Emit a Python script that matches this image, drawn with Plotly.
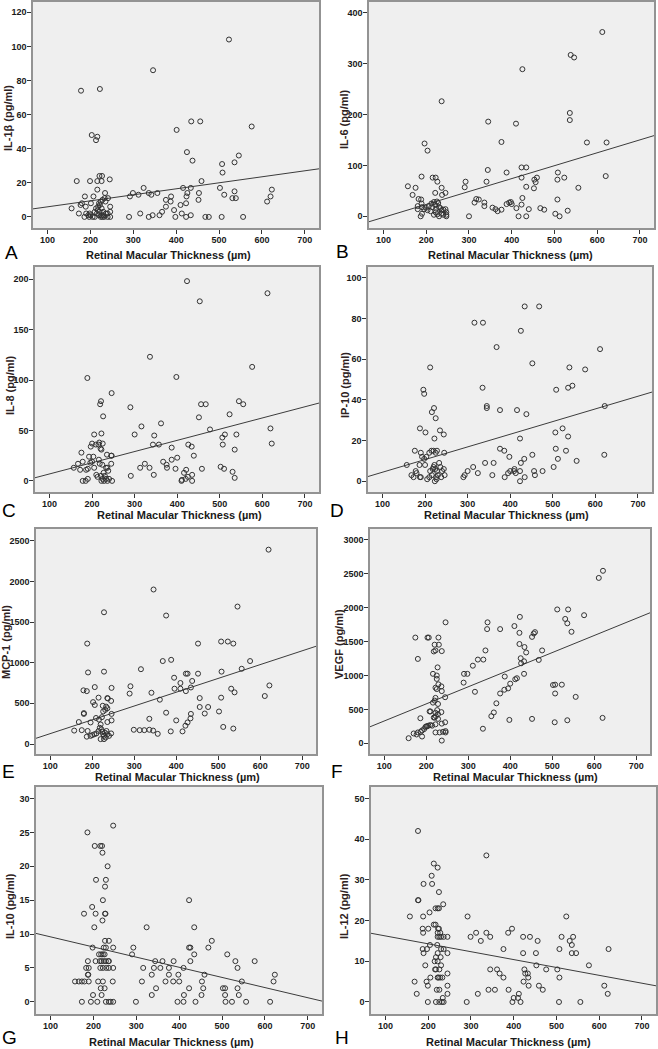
import plotly.graph_objects as go

# ---------------- data ----------------
x_tick_vals = [100, 200, 300, 400, 500, 600, 700]
x_title = "Retinal Macular Thickness (µm)"

il1b_pts = [(523,104),(346,86),(178,74),(222,75),(435,56),(456,56),(576,53),(401,51),(203,48),(216,47),(213,45),
    (425,38),(546,36),(438,33),(536,32),(507,31),(508,26),(168,21),(199,21),(216,21),(226,21),(221,24),(227,24),
    (245,22),(216,16),(324,17),(416,17),(434,17),(459,21),(502,17),(623,16),(536,15),(512,13),(620,12),(612,9),
    (531,11),(539,11),(299,14),(312,13),(336,14),(342,13),(356,14),(292,12),(388,12),(426,14),(453,14),(424,12),
    (234,14),(187,12),(207,12),(233,11),(241,11),(376,10),(387,9),(452,10),(423,8),(410,7),(156,5),(173,2),(177,7),
    (180,8),(189,6),(201,8),(213,5),(218,6),(220,8),(222,7),(224,9),(228,10),(230,3),(235,9),(240,2),(246,6),(246,3),
    (186,0),(190,2),(195,1),(197,0),(200,1),(205,0),(210,0),(215,2),(220,1),(224,0),(226,1),(228,0),(232,0),(236,2),
    (240,0),(246,0),(198,2),(210,3),(217,4),(221,3),(226,5),(231,1),(290,0),(316,2),(336,0),(345,1),(361,1),(367,3),
    (376,6),(395,4),(398,0),(413,2),(423,0),(434,1),(468,0),(476,0),(506,0),(556,0)]
il6_pts = [(612,362),(538,317),(546,312),(425,289),(536,203),(536,189),(236,226),(345,186),(410,182),(376,146),
    (576,145),(622,145),(196,143),(203,129),(620,79),(423,96),(434,96),(344,91),(388,86),(508,86),(189,78),(215,76),
    (222,76),(423,76),(459,76),(523,76),(226,68),(292,68),(341,68),(507,72),(453,72),(456,67),(157,59),(175,56),
    (236,56),(290,57),(434,58),(452,55),(556,56),(221,46),(245,46),(237,42),(168,42),(182,34),(188,33),(425,36),
    (317,34),(323,33),(507,33),(180,20),(189,25),(190,18),(195,14),(199,17),(203,12),(206,20),(212,25),(214,18),
    (218,28),(221,22),(223,15),(225,29),(228,26),(230,18),(233,16),(236,12),(240,13),(245,14),(247,8),(313,27),
    (336,27),(336,20),(388,24),(394,27),(398,28),(400,24),(355,17),(362,14),(367,10),(376,13),(411,16),(423,23),
    (440,14),(467,16),(476,13),(531,11),(180,14),(187,0),(190,5),(210,10),(218,3),(222,8),(226,4),(230,0),(235,5),
    (240,3),(247,0),(247,3),(300,0),(416,0),(434,0),(502,5),(512,0)]
il8_pts = [(423,198),(453,178),(612,186),(336,123),(576,113),(189,102),(398,103),(246,87),(221,79),(219,76),(290,73),
    (456,76),(467,76),(545,79),(555,76),(523,66),(226,64),(451,63),(362,57),(316,54),(477,51),(619,52),(222,47),
    (205,46),(300,46),(346,45),(512,46),(539,46),(506,43),(507,36),(343,36),(357,36),(426,36),(434,34),(622,37),
    (200,37),(215,36),(217,38),(225,37),(197,34),(209,36),(220,32),(222,31),(387,33),(535,31),(175,28),(193,24),
    (203,24),(235,26),(245,25),(246,25),(439,25),(400,23),(387,21),(367,19),(375,16),(376,13),(157,13),(167,17),
    (172,11),(178,19),(186,11),(190,12),(196,18),(200,19),(205,13),(210,6),(213,4),(216,21),(218,17),(221,5),
    (224,16),(227,8),(230,5),(233,13),(236,13),(238,10),(245,17),(324,17),(313,13),(335,13),(345,6),(396,12),
    (458,12),(416,8),(421,11),(435,6),(425,4),(502,14),(510,12),(530,9),(535,3),(178,0),(185,0),(190,2),(222,0),
    (225,2),(228,0),(233,2),(236,0),(240,2),(247,0),(291,5),(410,0),(411,1),(420,2),(435,0)]
ip10_pts = [(434,86),(468,86),(316,78),(336,78),(425,74),(368,66),(611,65),(212,56),(452,58),(539,56),(576,55),
    (335,46),(508,45),(536,46),(546,47),(196,45),(198,43),(345,37),(345,36),(376,35),(416,35),(438,33),(622,37),
    (221,36),(216,34),(225,31),(188,26),(201,24),(235,25),(244,23),(222,21),(423,21),(523,26),(506,24),(536,22),
    (176,15),(190,14),(193,12),(198,11),(203,12),(210,14),(215,15),(220,15),(225,14),(228,15),(245,14),(376,16),
    (386,15),(398,12),(507,16),(531,15),(512,11),(452,13),(621,13),(556,10),(157,8),(168,3),(178,5),(173,2),(180,4),
    (187,8),(188,2),(190,2),(200,8),(205,1),(210,2),(212,5),(216,3),(218,6),(220,7),(222,8),(224,6),(226,2),(228,5),
    (230,3),(233,9),(236,7),(238,2),(240,5),(244,6),(246,3),(223,0),(227,1),(290,2),(293,3),(300,5),(313,7),(324,4),
    (341,9),(358,3),(361,9),(387,2),(395,4),(400,5),(409,5),(410,6),(413,4),(423,5),(425,9),(433,11),(434,2),(423,0),
    (456,5),(458,3),(476,5),(502,7)]
mcp1_pts = [(620,2390),(346,1900),(546,1690),(228,1620),(376,1580),(188,1235),(452,1235),(507,1260),(523,1260),
    (536,1235),(388,1035),(368,1020),(576,1020),(316,920),(556,925),(190,880),(228,890),(508,890),(423,865),(427,865),
    (452,865),(395,815),(410,750),(438,775),(622,720),(291,710),(206,700),(246,690),(435,695),(396,680),(410,680),
    (531,680),(539,635),(179,660),(187,650),(289,620),(341,630),(423,650),(611,590),(215,570),(236,565),(237,560),
    (245,530),(361,545),(456,565),(507,570),(202,515),(206,480),(225,470),(233,460),(236,440),(231,420),(226,400),
    (180,380),(180,370),(246,370),(376,385),(435,370),(468,375),(456,455),(476,455),(502,400),(434,315),(427,265),
    (422,225),(400,290),(336,310),(512,210),(536,190),(168,270),(196,265),(209,320),(216,300),(223,330),(236,270),
    (246,290),(157,165),(175,170),(189,160),(196,100),(200,110),(205,120),(210,130),(215,160),(218,200),(220,240),
    (222,180),(224,150),(226,120),(228,100),(230,140),(232,80),(234,160),(236,120),(240,100),(245,130),(187,90),
    (220,60),(228,60),(299,175),(313,170),(324,170),(336,175),(345,165),(356,125),(387,155),(415,155)]
vegf_pts = [(621,2545),(611,2440),(512,1975),(538,1975),(576,1890),(531,1835),(536,1770),(546,1645),(423,1865),
    (410,1730),(346,1785),(345,1685),(376,1685),(246,1785),(422,1630),(456,1620),(459,1640),(452,1570),(422,1465),
    (434,1420),(438,1340),(476,1370),(341,1370),(425,1255),(426,1180),(433,1210),(468,1230),(323,1235),(336,1235),
    (311,1145),(298,1025),(290,1025),(289,895),(316,760),(387,985),(400,880),(412,945),(416,960),(433,1025),(376,735),
    (386,790),(395,810),(367,590),(361,455),(355,400),(335,215),(398,345),(452,360),(502,860),(507,865),(523,865),
    (507,735),(556,685),(506,310),(536,340),(620,375),(174,1560),(180,1245),(203,1560),(206,1560),(229,1560),
    (220,1455),(230,1455),(218,1355),(222,1370),(237,1360),(227,1120),(216,1025),(225,1000),(225,950),(229,870),
    (236,840),(237,770),(225,800),(222,820),(245,680),(222,670),(220,630),(216,600),(228,580),(236,460),(226,490),
    (222,450),(228,430),(210,470),(208,470),(218,380),(220,380),(223,400),(228,360),(186,370),(237,290),(245,310),
    (222,280),(240,170),(246,180),(246,160),(222,160),(232,160),(237,40),(158,75),(170,145),(177,130),(180,160),
    (187,170),(190,190),(190,100),(195,210),(198,240),(200,250),(202,250),(205,260),(210,270),(214,260)]
il10_pts = [(246,26),(186,25),(203,23),(216,23),(220,23),(221,22),(233,20),(206,18),(229,18),(227,17),(222,15),
    (423,15),(197,14),(178,13),(205,13),(227,13),(228,13),(221,12),(202,11),(324,11),(435,11),(198,8),(227,9),(236,9),
    (224,8),(229,8),(246,8),(293,8),(423,8),(426,8),(468,8),(476,9),(290,7),(435,7),(512,7),(213,7),(218,7),(222,7),
    (226,7),(187,6),(205,6),(215,6),(219,6),(224,6),(229,6),(235,6),(236,6),(344,6),(361,6),(387,6),(426,6),(531,6),
    (576,6),(183,5),(189,5),(216,5),(222,5),(230,5),(236,5),(246,5),(316,5),(341,5),(356,5),(376,5),(410,5),(536,5),
    (187,4),(188,4),(336,4),(376,4),(398,4),(459,4),(623,4),(157,3),(166,3),(173,3),(179,3),(189,3),(211,3),(222,3),
    (245,3),(313,3),(368,3),(386,3),(400,3),(453,3),(546,3),(620,3),(217,2),(226,2),(346,2),(423,2),(456,2),(502,2),
    (507,2),(536,2),(199,1),(219,1),(336,1),(411,1),(452,1),(507,1),(539,1),(173,0),(194,0),(209,0),(229,0),(236,0),
    (240,0),(246,0),(299,0),(396,0),(410,0),(438,0),(508,0),(523,0),(556,0),(612,0)]
il12_pts = [(176,42),(336,36),(213,34),(222,33),(208,31),(189,29),(209,29),(225,27),(176,25),(177,25),(235,24),
    (217,23),(222,23),(225,23),(292,21),(523,21),(157,21),(188,21),(203,22),(213,19),(217,19),(223,18),(225,18),
    (396,18),(187,18),(200,18),(188,17),(222,17),(228,17),(312,17),(336,17),(387,17),(222,16),(226,16),(230,16),
    (236,16),(245,16),(299,16),(345,16),(422,16),(438,16),(512,16),(539,16),(323,15),(456,15),(531,15),(536,14),
    (204,14),(221,14),(187,13),(197,13),(230,13),(236,13),(376,13),(507,13),(622,13),(189,12),(222,12),(245,12),
    (422,12),(452,12),(536,12),(546,12),(218,11),(229,11),(215,10),(222,10),(230,9),(193,9),(453,9),(576,9),(205,6),
    (216,8),(218,8),(226,8),(345,8),(361,8),(425,8),(476,8),(502,8),(367,7),(245,7),(427,7),(433,7),(376,6),(434,6),
    (507,6),(222,6),(224,6),(228,6),(233,6),(168,5),(196,5),(199,4),(245,4),(423,5),(435,4),(459,4),(468,3),(341,3),
    (356,3),(388,3),(612,4),(620,2),(173,2),(220,3),(226,3),(245,2),(316,2),(234,1),(400,1),(410,1),(412,2),(199,0),
    (218,0),(226,0),(232,0),(236,0),(290,0),(397,0),(416,0),(506,0),(556,0)]

# fitted regression lines: (intercept, slope)
il1b_fit = (2.4, 0.0352)
il6_fit = (-27.4, 0.2536)
il8_fit = (-4.2, 0.111)
ip10_fit = (-1.8, 0.0623)
mcp1_fit = (-42, 1.697)
vegf_fit = (77, 2.522)
il10_fit = (11.08, -0.01497)
il12_fit = (18.15, -0.01934)

y_labels = ["IL-1β (pg/ml)", "IL-6 (pg/ml)", "IL-8 (pg/ml)", "IP-10 (pg/ml)",
            "MCP-1 (pg/ml)", "VEGF (pg/ml)", "IL-10 (pg/ml)", "IL-12 (pg/ml)"]
panel_letters = ["A", "B", "C", "D", "E", "F", "G", "H"]
y_tick_sets = [[0, 20, 40, 60, 80, 100, 120], [0, 100, 200, 300, 400], [0, 50, 100, 150, 200],
               [0, 20, 40, 60, 80, 100], [0, 500, 1000, 1500, 2000, 2500],
               [0, 500, 1000, 1500, 2000, 2500, 3000], [0, 5, 10, 15, 20, 25, 30], [0, 10, 20, 30, 40, 50]]

# ---------------- layout geometry (pixels) ----------------
W, H = 658, 1049
FONT = "Liberation Sans, Arial, sans-serif"
x_range = [66, 733]
y_ranges = [[-6.5, 126], [-23, 421], [-11, 212], [-5.3, 105.4],
            [-123, 2644], [-158, 3162], [-1.8, 31.7], [-2.95, 52.8]]
frames = [(33, 319, 2, 228), (369, 654, 2, 228), (35, 319, 267, 492), (368, 652, 267, 492),
          (36, 316, 529, 754), (370, 650, 529, 754), (36, 322, 787, 1014), (371, 656, 787, 1014)]
xtitle_pos = [(168, 255), (511, 255), (179, 515), (506, 515), (177, 777), (515, 777), (171, 1042), (508, 1042)]
letter_pos = [(11, 252), (342, 251), (9, 510), (337, 510), (8, 771), (337, 771), (9, 1037), (342, 1037)]
ytitle_pos = [(8, 118), (344, 119), (10, 385), (345, 385), (6, 642), (339, 644), (10, 906), (344, 906)]

all_pts = [il1b_pts, il6_pts, il8_pts, ip10_pts, mcp1_pts, vegf_pts, il10_pts, il12_pts]
all_fits = [il1b_fit, il6_fit, il8_fit, ip10_fit, mcp1_fit, vegf_fit, il10_fit, il12_fit]

fig = go.Figure()
annotations = []
layout_axes = {}

def px_x(p):
    return p / W

def px_y(p):
    return 1 - p / H

for i in range(8):
    suffix = "" if i == 0 else str(i + 1)
    xa, ya = "x" + suffix, "y" + suffix
    pts = all_pts[i]
    xs = [p[0] for p in pts]
    ys = [p[1] for p in pts]
    b0, b1 = all_fits[i]
    fig.add_trace(go.Scatter(
        x=[x_range[0], x_range[1]], y=[b0 + b1 * x_range[0], b0 + b1 * x_range[1]],
        mode="lines", line=dict(color="#3c3c3c", width=1), xaxis=xa, yaxis=ya,
        showlegend=False, hoverinfo="skip"))
    fig.add_trace(go.Scatter(
        x=xs, y=ys, mode="markers", xaxis=xa, yaxis=ya, showlegend=False,
        marker=dict(symbol="circle-open", size=5, color="#333333", line=dict(width=1, color="#333333"))))
    l, r, t, b = frames[i]
    tickfont = dict(family=FONT, size=9, color="#1a1a1a", weight="bold")
    layout_axes["xaxis" + suffix] = dict(
        domain=[px_x(l), px_x(r)], anchor=ya, range=x_range, tickvals=x_tick_vals,
        showgrid=False, zeroline=False, showline=True, mirror=True, linecolor="#939393", linewidth=1.5,
        ticks="outside", ticklen=4, tickwidth=1, tickcolor="#333333", tickfont=tickfont, fixedrange=True,
        ticklabelstandoff=-2)
    layout_axes["yaxis" + suffix] = dict(
        domain=[px_y(b), px_y(t)], anchor=xa, range=y_ranges[i], tickvals=y_tick_sets[i],
        showgrid=False, zeroline=False, showline=True, mirror=True, linecolor="#939393", linewidth=1.5,
        ticks="outside", ticklen=4, tickwidth=1, tickcolor="#333333", tickfont=tickfont, fixedrange=True,
        ticklabelstandoff=-1)
    # panel background
    fig.add_shape(type="rect", xref="paper", yref="paper", x0=px_x(l), x1=px_x(r), y0=px_y(b), y1=px_y(t),
                  fillcolor="#efefef", line=dict(width=0), layer="below")
    tx, ty = xtitle_pos[i]
    annotations.append(dict(text=x_title, x=px_x(tx), y=px_y(ty), xref="paper", yref="paper",
                            xanchor="center", yanchor="middle", showarrow=False,
                            font=dict(family=FONT, size=11, color="#1a1a1a", weight="bold")))
    lx, ly = letter_pos[i]
    annotations.append(dict(text=panel_letters[i], x=px_x(lx), y=px_y(ly), xref="paper", yref="paper",
                            xanchor="center", yanchor="middle", showarrow=False,
                            font=dict(family=FONT, size=19, color="#000000")))
    yx, yy = ytitle_pos[i]
    annotations.append(dict(text=y_labels[i], x=px_x(yx), y=px_y(yy), xref="paper", yref="paper",
                            xanchor="center", yanchor="middle", showarrow=False, textangle=-90,
                            font=dict(family=FONT, size=11, color="#2e2222", weight="bold")))

fig.update_layout(width=W, height=H, margin=dict(l=0, r=0, t=0, b=0),
                  paper_bgcolor="white", plot_bgcolor="rgba(0,0,0,0)",
                  annotations=annotations, **layout_axes)
fig.write_html("out.html", config={"displayModeBar": False},
               post_script="document.body.style.margin='0';document.body.style.overflow='hidden';")
